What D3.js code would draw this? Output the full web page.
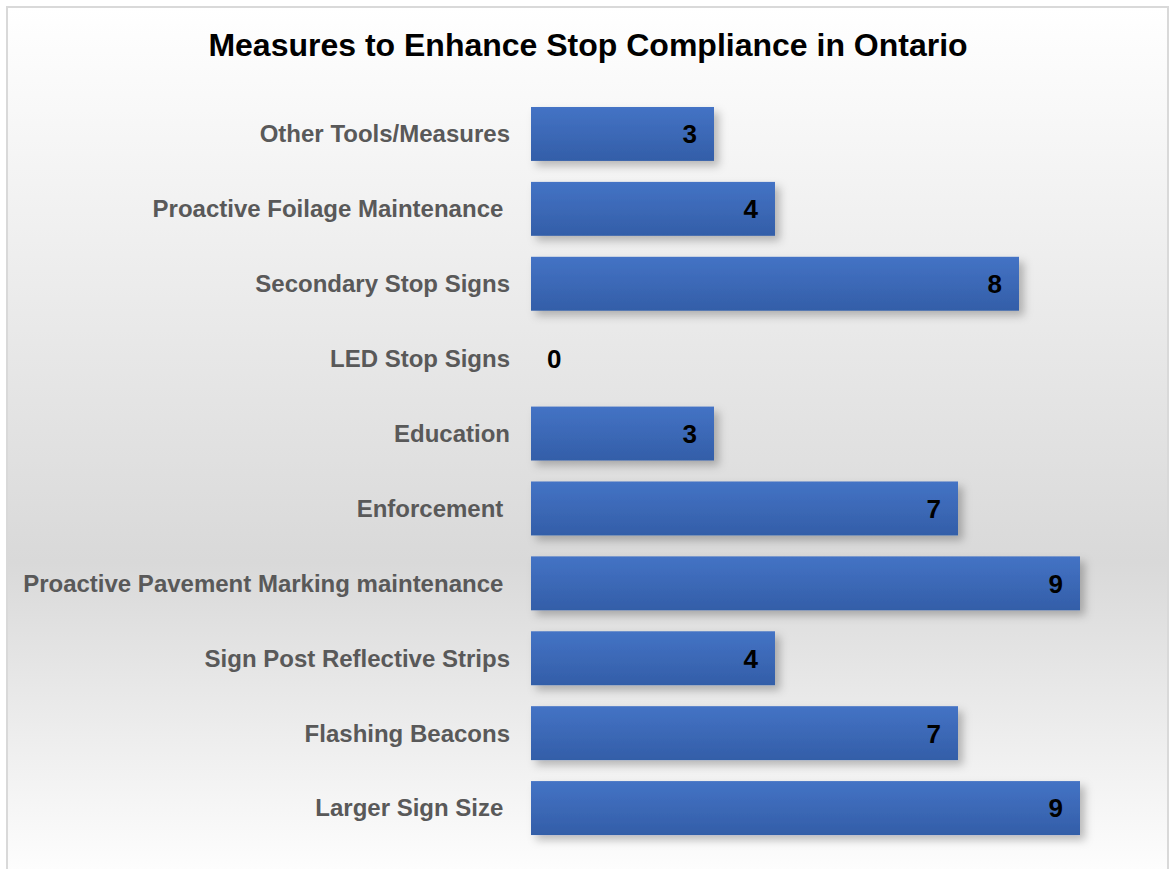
<!DOCTYPE html>
<html>
<head>
<meta charset="utf-8">
<script src="https://cdn.jsdelivr.net/npm/d3@7"></script>
<style>
  body { margin: 0; background: #fff; }
  svg { display: block; }
  text { font-family: "Liberation Sans", Arial, sans-serif; font-weight: bold; }
</style>
</head>
<body>
<script>
const categories = [
  'Other Tools/Measures',
  'Proactive Foilage Maintenance ',
  'Secondary Stop Signs',
  'LED Stop Signs',
  'Education',
  'Enforcement ',
  'Proactive Pavement Marking maintenance ',
  'Sign Post Reflective Strips',
  'Flashing Beacons',
  'Larger Sign Size '
]
const values = [3, 4, 8, 0, 3, 7, 9, 4, 7, 9]
const title = 'Measures to Enhance Stop Compliance in Ontario'

const W = 1170, H = 869
const svg = d3.select('body').append('svg')
  .attr('width', W)
  .attr('height', H)

const defs = svg.append('defs')

const bg = defs.append('linearGradient')
  .attr('id', 'bg').attr('x1', 0).attr('y1', 0).attr('x2', 0).attr('y2', 1)
bg.append('stop').attr('offset', '0%').attr('stop-color', '#ffffff')
bg.append('stop').attr('offset', '63%').attr('stop-color', '#d9d9d9')
bg.append('stop').attr('offset', '100%').attr('stop-color', '#ffffff')

const barGrad = defs.append('linearGradient')
  .attr('id', 'bar').attr('x1', 0).attr('y1', 0).attr('x2', 0).attr('y2', 1)
barGrad.append('stop').attr('offset', '0%').attr('stop-color', '#4473c5')
barGrad.append('stop').attr('offset', '100%').attr('stop-color', '#335ea8')

const shadow = defs.append('filter')
  .attr('id', 'shadow').attr('x', '-10%').attr('y', '-30%').attr('width', '130%').attr('height', '180%')
shadow.append('feDropShadow')
  .attr('dx', 5).attr('dy', 5).attr('stdDeviation', 4)
  .attr('flood-color', '#000').attr('flood-opacity', 0.25)

// chart area with border
svg.append('rect')
  .attr('x', 7).attr('y', 7)
  .attr('width', 1161).attr('height', 880)
  .attr('fill', 'url(#bg)')
  .attr('stroke', '#d9d9d9')
  .attr('stroke-width', 2)

svg.append('text')
  .attr('x', 588).attr('y', 56)
  .attr('text-anchor', 'middle')
  .attr('font-size', 32)
  .attr('fill', '#000')
  .text(title)

const x = d3.scaleLinear().domain([0, 9]).range([531, 1080])
const y = d3.scaleBand().domain(categories).range([96.5, 845.5]).paddingInner(0.28).paddingOuter(0.14)

const g = svg.append('g')

g.selectAll('.bar')
  .data(values)
  .enter().append('rect')
    .attr('class', 'bar')
    .attr('x', x(0))
    .attr('y', (d, i) => y(categories[i]))
    .attr('width', d => x(d) - x(0))
    .attr('height', y.bandwidth())
    .attr('fill', 'url(#bar)')
    .attr('filter', d => d > 0 ? 'url(#shadow)' : null)

// category labels
g.selectAll('.cat')
  .data(categories)
  .enter().append('text')
    .attr('class', 'cat')
    .attr('x', 510)
    .attr('y', d => y(d) + y.bandwidth() / 2)
    .attr('dy', '0.35em')
    .attr('text-anchor', 'end')
    .attr('font-size', 24)
    .attr('fill', '#595959')
    .style('white-space', 'pre')
    .text(d => d)

// value labels
g.selectAll('.val')
  .data(values)
  .enter().append('text')
    .attr('class', 'val')
    .attr('x', d => d > 0 ? x(d) - 17 : x(0) + 16)
    .attr('y', (d, i) => y(categories[i]) + y.bandwidth() / 2)
    .attr('dy', '0.36em')
    .attr('text-anchor', d => d > 0 ? 'end' : 'start')
    .attr('font-size', 26)
    .attr('fill', '#000')
    .text(d => d)
</script>
</body>
</html>
